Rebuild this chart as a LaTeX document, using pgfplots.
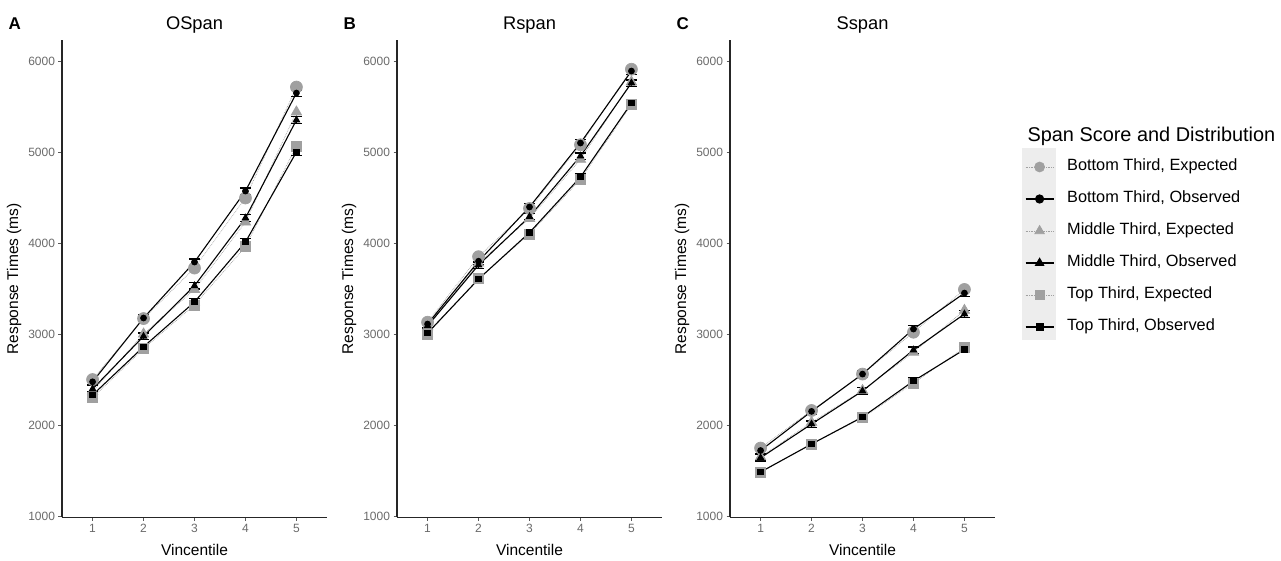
\documentclass[border=0pt]{standalone}
\usepackage{pgfplots}
\pgfplotsset{compat=1.18}
\usepackage{fontspec}
\setmainfont{Liberation Sans}
\definecolor{expgrey}{HTML}{A0A0A0}
\definecolor{tickgrey}{HTML}{6A6A6A}
\definecolor{keygrey}{HTML}{EDEDED}
\pgfplotsset{
  panel/.style={
    scale only axis, width=265pt, height=477.3pt,
    xmin=0.4, xmax=5.6, ymin=985, ymax=6230,
    axis lines=left, axis line style={-, line width=1.1pt, black!85},
    xtick={1,2,3,4,5}, ytick={1000,2000,3000,4000,5000,6000},
    tick align=outside, major tick length=3.5pt,
    every tick/.style={black!65, line width=0.8pt},
    tick label style={font=\fontsize{12}{14}\selectfont, text=tickgrey},
    /pgf/number format/assume math mode=true,
    yticklabel style={/pgf/number format/1000 sep={}},
    scaled y ticks=false,
    clip=false,
    xlabel={Vincentile}, ylabel={Response Times (ms)},
    label style={font=\fontsize{15.5}{17}\selectfont},
    xlabel style={at={(axis description cs:0.5,-0.0673)}, anchor=center},
    ylabel style={at={(axis description cs:-0.181,0.5)}, anchor=center},
  },
  expd/.style={expgrey, densely dotted, line width=0.7pt, mark size=6pt,
    mark options={solid, fill=expgrey, draw=expgrey}},
  obs/.style={black, line width=1.1pt, mark size=2.8pt,
    mark options={solid, fill=black},
    /pgfplots/error bars/y dir=both, /pgfplots/error bars/y explicit,
    /pgfplots/error bars/error bar style={line width=1.2pt, black},
    /pgfplots/error bars/error mark options={rotate=90, mark size=5.5pt, line width=1.3pt, black}},
}
\newcommand{\paneltext}[2]{%
  \node[font=\bfseries\fontsize{17}{19}\selectfont] at (axis description cs:-0.178,1.0337) {#1};
  \node[font=\fontsize{18.3}{20}\selectfont, anchor=base] at (axis description cs:0.5,1.0212) {#2};
}
\begin{document}
\begin{tikzpicture}
\useasboundingbox (0,0) rectangle (1281pt,560pt);
\fill[keygrey] (1022pt,412pt) rectangle (1056pt,220pt);
\node[anchor=base west, font=\fontsize{19.9}{22}\selectfont] at (1024pt,418.5pt) {Span Score and Distribution};

% Panel A: OSpan
\begin{axis}[panel, at={(62pt,42.6pt)}, anchor=south west]
\paneltext{A}{OSpan}
\addplot[expd, mark=*] coordinates {(1,2500) (2,3170) (3,3725) (4,4495) (5,5714)};
\addplot[expd, mark=triangle*] coordinates {(1,2370) (2,3000) (3,3490) (4,4230) (5,5440)};
\addplot[expd, mark=square*, mark size=5pt] coordinates {(1,2300) (2,2840) (3,3320) (4,3960) (5,5066)};
\addplot[obs, mark=*] coordinates {(1,2475) +- (0,35) (2,3176) +- (0,35) (3,3791) +- (0,35) (4,4571) +- (0,35) (5,5648) +- (0,35)};
\addplot[obs, mark=triangle*, mark size=3.5pt] coordinates {(1,2396) +- (0,35) (2,2975) +- (0,35) (3,3530) +- (0,35) (4,4275) +- (0,35) (5,5352) +- (0,35)};
\addplot[obs, mark=square*, mark size=2.6pt] coordinates {(1,2330) +- (0,35) (2,2860) +- (0,35) (3,3352) +- (0,35) (4,4011) +- (0,35) (5,5000) +- (0,35)};
\end{axis}

% Panel B: Rspan
\begin{axis}[panel, at={(397pt,42.6pt)}, anchor=south west]
\paneltext{B}{Rspan}
\addplot[expd, mark=*] coordinates {(1,3130) (2,3850) (3,4380) (4,5080) (5,5910)};
\addplot[expd, mark=triangle*] coordinates {(1,3080) (2,3780) (3,4270) (4,4920) (5,5770)};
\addplot[expd, mark=square*, mark size=5pt] coordinates {(1,3000) (2,3610) (3,4100) (4,4700) (5,5520)};
\addplot[obs, mark=*] coordinates {(1,3110) +- (0,35) (2,3800) +- (0,35) (3,4396) +- (0,35) (4,5099) +- (0,35) (5,5890) +- (0,35)};
\addplot[obs, mark=triangle*, mark size=3.5pt] coordinates {(1,3090) +- (0,35) (2,3758) +- (0,35) (3,4290) +- (0,35) (4,4956) +- (0,35) (5,5758) +- (0,35)};
\addplot[obs, mark=square*, mark size=2.6pt] coordinates {(1,3011) +- (0,35) (2,3604) +- (0,35) (3,4115) +- (0,35) (4,4725) +- (0,35) (5,5538) +- (0,35)};
\end{axis}

% Panel C: Sspan
\begin{axis}[panel, at={(730pt,42.6pt)}, anchor=south west,
  legend style={at={(axis description cs:1.1132,0.7509)}, anchor=north west,
    draw=none, fill=none, inner sep=0pt, outer sep=0pt, row sep=16pt,
    font=\fontsize{16.3}{18}\selectfont,
    nodes={inner sep=0pt, text height=12pt, text depth=4pt},
    /tikz/every odd column/.append style={column sep=13pt}},
  legend cell align=left,
  legend image code/.code={\draw[mark repeat=2, mark phase=2, #1] plot coordinates {(0pt,0pt) (14pt,0pt) (28pt,0pt)};},
]
\paneltext{C}{Sspan}
\addlegendimage{expgrey, densely dotted, line width=0.7pt, mark=*, mark size=5pt, mark options={solid, fill=expgrey}}
\addlegendentry{Bottom Third, Expected}
\addlegendimage{black, line width=1.2pt, mark=*, mark size=4pt, mark options={solid, fill=black}}
\addlegendentry{Bottom Third, Observed}
\addlegendimage{expgrey, densely dotted, line width=0.7pt, mark=triangle*, mark size=5.5pt, mark options={solid, fill=expgrey}}
\addlegendentry{Middle Third, Expected}
\addlegendimage{black, line width=1.2pt, mark=triangle*, mark size=4.5pt, mark options={solid, fill=black}}
\addlegendentry{Middle Third, Observed}
\addlegendimage{expgrey, densely dotted, line width=0.7pt, mark=square*, mark size=4.5pt, mark options={solid, fill=expgrey}}
\addlegendentry{Top Third, Expected}
\addlegendimage{black, line width=1.2pt, mark=square*, mark size=3.5pt, mark options={solid, fill=black}}
\addlegendentry{Top Third, Observed}
\addplot[expd, mark=*, forget plot] coordinates {(1,1747) (2,2160) (3,2560) (4,3020) (5,3490)};
\addplot[expd, mark=triangle*, forget plot] coordinates {(1,1650) (2,2030) (3,2380) (4,2800) (5,3260)};
\addplot[expd, mark=square*, mark size=5pt, forget plot] coordinates {(1,1480) (2,1790) (3,2080) (4,2460) (5,2850)};
\addplot[obs, mark=*, forget plot] coordinates {(1,1720) +- (0,35) (2,2150) +- (0,35) (3,2560) +- (0,35) (4,3055) +- (0,35) (5,3450) +- (0,35)};
\addplot[obs, mark=triangle*, mark size=3.5pt, forget plot] coordinates {(1,1640) +- (0,35) (2,2011) +- (0,35) (3,2374) +- (0,35) (4,2824) +- (0,35) (5,3220) +- (0,35)};
\addplot[obs, mark=square*, mark size=2.6pt, forget plot] coordinates {(1,1484) +- (0,35) (2,1791) +- (0,35) (3,2088) +- (0,35) (4,2484) +- (0,35) (5,2830) +- (0,35)};
\end{axis}
\end{tikzpicture}
\end{document}
